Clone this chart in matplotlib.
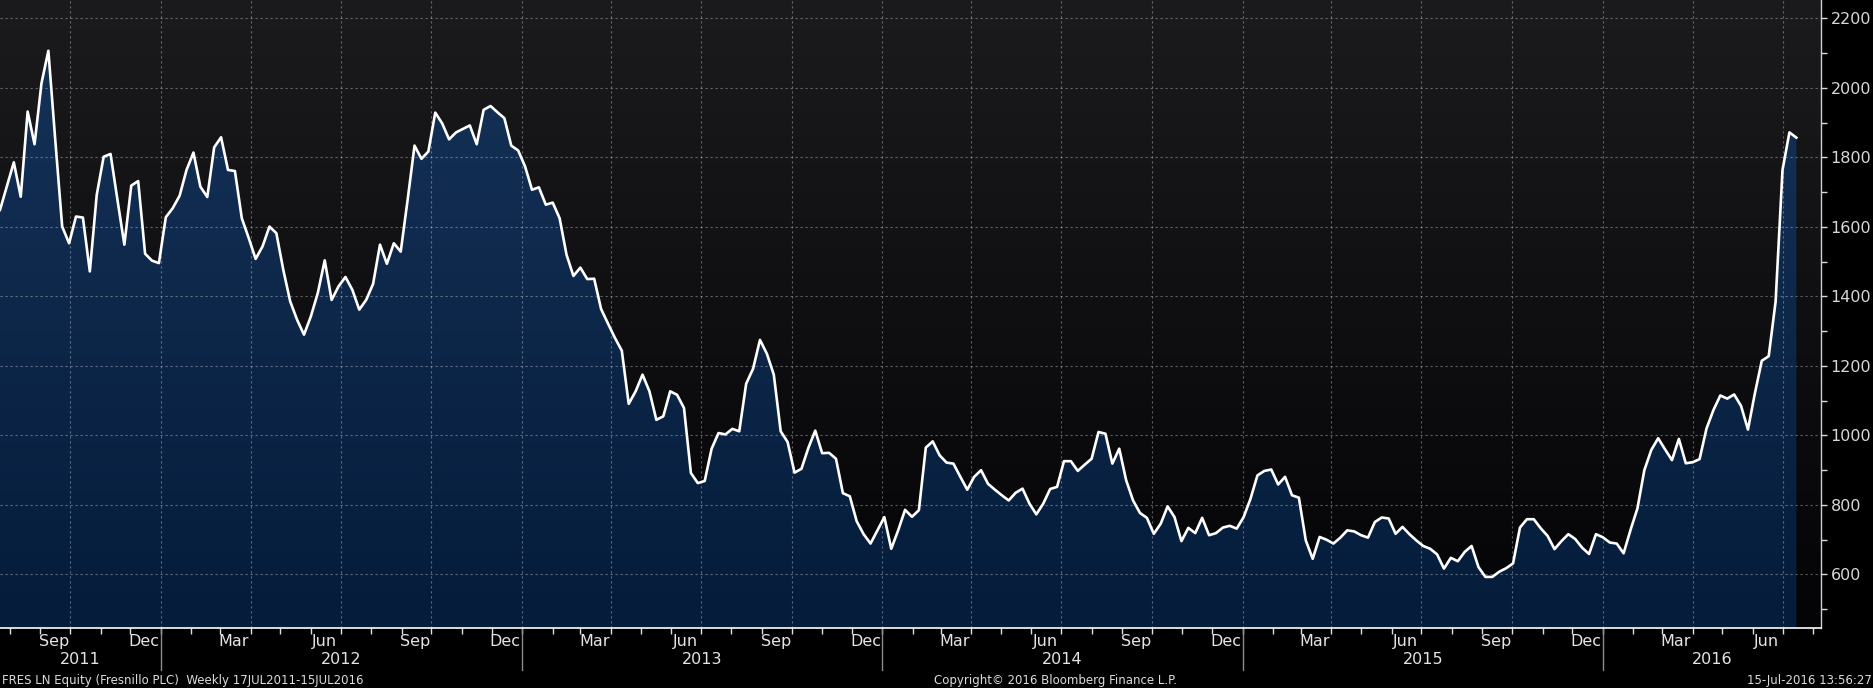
import matplotlib
matplotlib.use('Agg')
import matplotlib.pyplot as plt
import matplotlib.dates as mdates
import matplotlib.transforms as mtransforms
from matplotlib.colors import LinearSegmentedColormap
from matplotlib.ticker import FixedLocator
import numpy as np
import pandas as pd

# weekly closes, FRES LN (GBp), first week ending 22 Jul 2011
first_week = '2011-07-22'
prices = [
    1649, 1718, 1786, 1687, 1932, 1838, 2013, 2107, 1850, 1601,
    1553, 1630, 1627, 1472, 1692, 1802, 1810, 1678, 1549, 1719,
    1732, 1523, 1503, 1496, 1628, 1654, 1690, 1764, 1814, 1716,
    1686, 1829, 1858, 1764, 1761, 1625, 1568, 1508, 1544, 1601,
    1582, 1477, 1386, 1333, 1290, 1343, 1410, 1504, 1390, 1429,
    1456, 1419, 1362, 1390, 1436, 1549, 1494, 1553, 1529, 1678,
    1834, 1796, 1817, 1929, 1898, 1852, 1872, 1882, 1892, 1838,
    1937, 1948, 1930, 1913, 1834, 1820, 1774, 1707, 1714, 1664,
    1670, 1625, 1520, 1459, 1483, 1450, 1451, 1364, 1322, 1281,
    1244, 1091, 1127, 1175, 1127, 1045, 1055, 1127, 1117, 1079,
    892, 863, 869, 962, 1007, 1003, 1019, 1012, 1149, 1192,
    1275, 1235, 1175, 1012, 981, 893, 904, 964, 1014, 949,
    950, 933, 834, 825, 753, 716, 689, 727, 765, 674,
    727, 786, 766, 785, 965, 983, 943, 922, 919, 881,
    844, 881, 900, 861, 844, 828, 813, 835, 847, 804,
    773, 804, 846, 852, 926, 926, 898, 916, 933, 1010,
    1005, 919, 962, 871, 813, 777, 763, 717, 746, 796,
    765, 696, 734, 719, 763, 713, 719, 735, 740, 732,
    765, 818, 885, 898, 902, 859, 881, 828, 821, 698,
    645, 708, 700, 689, 706, 727, 724, 713, 706, 751,
    764, 761, 717, 737, 716, 698, 682, 674, 658, 617,
    648, 638, 665, 682, 621, 593, 593, 608, 618, 632,
    735, 759, 759, 733, 711, 673, 696, 716, 702, 677,
    659, 716, 707, 692, 689, 661, 728, 790, 900, 958,
    992, 960, 929, 990, 920, 923, 932, 1020, 1073, 1115,
    1106, 1118, 1085, 1017, 1121, 1215, 1228, 1385, 1764, 1872,
    1857,
]
years = [2011, 2012, 2013, 2014, 2015, 2016]
y_ticks = [600, 800, 1000, 1200, 1400, 1600, 1800, 2000, 2200]

title_left = 'FRES LN Equity (Fresnillo PLC)  Weekly 17JUL2011-15JUL2016'
title_mid = 'Copyright\u00a9 2016 Bloomberg Finance L.P.'
title_right = '15-Jul-2016 13:56:27'

dates = pd.date_range(first_week, periods=len(prices), freq='7D')

x_start = pd.Timestamp('2011-07-22')
x_end = pd.Timestamp('2016-08-09')
y_lo, y_hi = 446, 2253

plt.rcParams['font.family'] = ['DejaVu Sans']

fig = plt.figure(figsize=(18.74, 6.88), dpi=100, facecolor='black')
ax = fig.add_axes([0, 60 / 688, 1821 / 1874, 628 / 688])
ax.set_facecolor('#0b0b0e')

xn = mdates.date2num([x_start, x_end])
grad = np.linspace(0, 1, 256).reshape(-1, 1)

# background gradient
bg_cmap = LinearSegmentedColormap.from_list('bg', ['#040407', '#1b1b1e'])
ax.imshow(grad, extent=[xn[0], xn[1], y_lo, y_hi], origin='lower',
          aspect='auto', cmap=bg_cmap, zorder=0)

# area fill with gradient clipped to the area under the line
poly = ax.fill_between(dates, prices, y_lo, facecolor='none', edgecolor='none')
fill_cmap = LinearSegmentedColormap.from_list('fill', ['#051c3a', '#16335a'])
img = ax.imshow(grad, extent=[xn[0], xn[1], y_lo, y_hi], origin='lower',
                aspect='auto', cmap=fill_cmap, zorder=1)
img.set_clip_path(poly.get_paths()[0], transform=ax.transData)

# grid
grid_kw = dict(color='white', alpha=0.34, lw=0.8, ls=(0, (2, 2.5)), zorder=2)
for v in y_ticks:
    ax.axhline(v, **grid_kw)
for q in pd.date_range('2011-10-01', '2016-07-01', freq='QS'):
    ax.axvline(q, **grid_kw)

ax.plot(dates, prices, color='white', lw=1.9, zorder=3)

ax.set_xlim(x_start, x_end)
ax.set_ylim(y_lo, y_hi)

# y axis on the right
ax.yaxis.tick_right()
ax.yaxis.set_major_locator(FixedLocator(y_ticks))
ax.yaxis.set_minor_locator(FixedLocator([500, 700, 900, 1100, 1300, 1500, 1700, 1900, 2100]))
ax.tick_params(axis='y', which='both', colors='#d8d8d8', direction='out',
               length=4, width=1, pad=3, labelsize=11.5)

# x axis: month names centred in the month, minor ticks at month starts
ax.xaxis.set_major_locator(mdates.MonthLocator(bymonth=[3, 6, 9, 12], bymonthday=15))
ax.xaxis.set_major_formatter(mdates.DateFormatter('%b'))
ax.xaxis.set_minor_locator(mdates.MonthLocator())
ax.tick_params(axis='x', which='major', length=0, pad=4, labelsize=11.5, labelcolor='#e4e4e4')
ax.tick_params(axis='x', which='minor', length=4, width=1, color='#e0e0e0', direction='out')

for s in ['left', 'top']:
    ax.spines[s].set_visible(False)
ax.spines['bottom'].set_color('white')
ax.spines['bottom'].set_linewidth(1.2)
ax.spines['right'].set_color('#cfcfcf')
ax.spines['right'].set_linewidth(1)

# year labels and separators
trans = mtransforms.blended_transform_factory(ax.transData, ax.transAxes)
for yr in years:
    lo = max(pd.Timestamp(yr, 1, 1), x_start)
    hi = min(pd.Timestamp(yr + 1, 1, 1), x_end)
    mid = lo + (hi - lo) / 2
    ax.text(mid, -32 / 628, str(yr), transform=trans, ha='center', va='center',
            color='#e4e4e4', fontsize=11.5)
    if yr > years[0]:
        jan = pd.Timestamp(yr, 1, 1)
        ax.plot([jan, jan], [0, -42 / 628], transform=trans, color='#8c8c8c',
                lw=1, clip_on=False)

fig.text(0.001, 0.011, title_left, color='#dcdcdc', fontsize=8.5, ha='left', va='center')
fig.text(0.563, 0.011, title_mid, color='#dcdcdc', fontsize=8.5, ha='center', va='center')
fig.text(0.999, 0.011, title_right, color='#dcdcdc', fontsize=8.5, ha='right', va='center')

fig.savefig('out.png', dpi=100, facecolor='black')
